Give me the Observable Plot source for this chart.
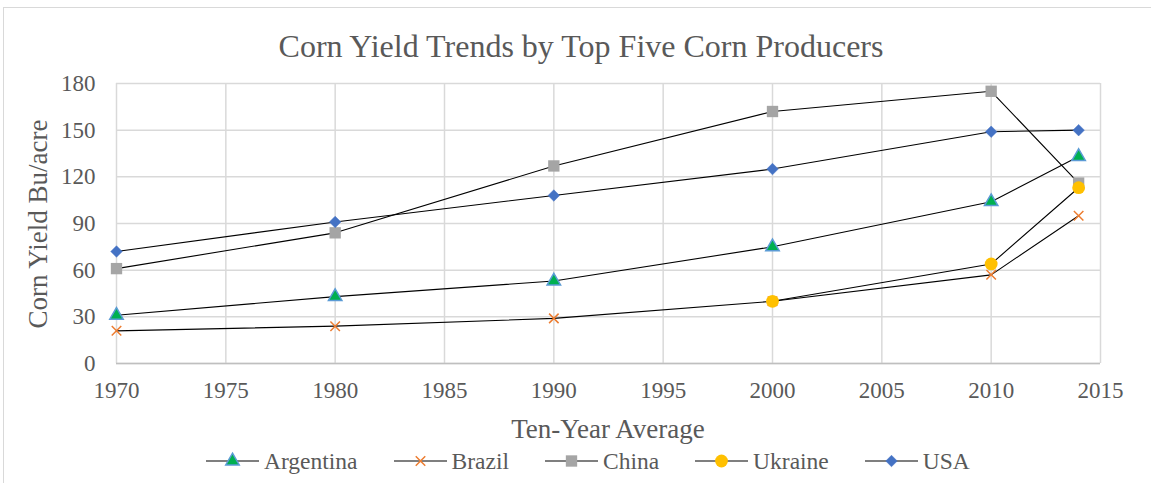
<!DOCTYPE html>
<html><head><meta charset="utf-8">
<script src="https://cdn.jsdelivr.net/npm/d3@7"></script>
<script src="https://cdn.jsdelivr.net/npm/@observablehq/plot@0.6"></script>
<style>
body{margin:0;background:#fff;}
#wrap{position:relative;width:1151px;height:483px;overflow:hidden;font-family:"Liberation Serif","Times New Roman",serif;color:#595959;}
#frame{position:absolute;left:3px;top:7px;width:1200px;height:600px;border-left:1px solid #d9d9d9;border-top:1px solid #d9d9d9;}
#chart{position:absolute;left:0;top:0;}
#title{position:absolute;top:28px;left:581px;transform:translateX(-50%);white-space:nowrap;font-size:32px;line-height:36px;}
#ylab{position:absolute;left:38px;top:224px;transform:translate(-50%,-50%) rotate(-90deg);white-space:nowrap;font-size:27px;line-height:30px;}
#xlab{position:absolute;left:608px;top:414px;transform:translateX(-50%);white-space:nowrap;font-size:27px;line-height:30px;}
#legend{position:absolute;left:206px;top:448px;display:flex;align-items:center;gap:36px;font-size:23.5px;line-height:26px;}
.item{display:flex;align-items:center;}
.item span{margin-left:5px;}
</style>
</head><body>
<div id="wrap">
  <div id="frame"></div>
  <div id="chart"></div>
  <div id="title">Corn Yield Trends by Top Five Corn Producers</div>
  <div id="ylab">Corn Yield Bu/acre</div>
  <div id="xlab">Ten-Year Average</div>
  <div id="legend"></div>
</div>
<script>
// ---- data ----
const years = [1970, 1980, 1990, 2000, 2010, 2014];
const countries = ["Argentina", "Brazil", "China", "Ukraine", "USA"];
const argentina = [31, 43, 53, 75, 104, 133];
const brazil    = [21, 24, 29, 40, 57, 95];
const china     = [61, 84, 127, 162, 175, 116];
const ukraine   = [null, null, null, 40, 64, 113];
const usa       = [72, 91, 108, 125, 149, 150];
const xTicks = [1970, 1975, 1980, 1985, 1990, 1995, 2000, 2005, 2010, 2015];
const yTicks = [0, 30, 60, 90, 120, 150, 180];

// ---- styles ----
const seriesValues = [argentina, brazil, china, ukraine, usa];
const styles = {
  Argentina: {symbol: "triangle", fill: "#00b050", stroke: "#5b9bd5", r: 5, sw: 1.5},
  Brazil:    {symbol: "times",    fill: "none",    stroke: "#ed7d31", r: 4.4, sw: 1.5},
  China:     {symbol: "square",   fill: "#a5a5a5", stroke: "#a5a5a5", r: 6.4, sw: 0},
  Ukraine:   {symbol: "circle",   fill: "#ffc000", stroke: "#ffc000", r: 6.4, sw: 0},
  USA:       {symbol: "diamond2", fill: "#4472c4", stroke: "#4472c4", r: 5.2, sw: 0.5}
};

const series = countries.map((c, i) => ({
  name: c,
  rows: years.map((y, j) => ({year: y, value: seriesValues[i][j], country: c})).filter(d => d.value != null)
}));

const marks = [
  Plot.gridY(yTicks, {stroke: "#d9d9d9", strokeOpacity: 1, strokeWidth: 1.5}),
  Plot.gridX(xTicks, {stroke: "#d9d9d9", strokeOpacity: 1, strokeWidth: 1.5}),
  Plot.ruleY([0], {stroke: "#bfbfbf", strokeWidth: 1.5}),
  Plot.axisY(yTicks, {tickSize: 0, tickPadding: 21, fontSize: 23, label: null}),
  Plot.axisX(xTicks, {tickSize: 0, tickPadding: 18, fontSize: 23, tickFormat: d => String(d), label: null})
];
for (const s of series) {
  const st = styles[s.name];
  marks.push(Plot.line(s.rows, {x: "year", y: "value", stroke: "#000", strokeWidth: 1.1}));
  marks.push(Plot.dot(s.rows, {x: "year", y: "value", symbol: () => st.symbol, fill: st.fill, stroke: st.stroke, strokeWidth: st.sw, r: st.r}));
}

const chart = Plot.plot({
  width: 1151, height: 483,
  marginLeft: 116, marginRight: 51, marginTop: 83, marginBottom: 120,
  x: {domain: [1970, 2015]},
  y: {domain: [0, 180]},
  symbol: {type: "identity"},
  style: {fontFamily: '"Liberation Serif","Times New Roman",serif', fontSize: "23px", color: "#595959", background: "transparent", overflow: "visible"},
  marks
});
document.getElementById("chart").appendChild(chart);

// ---- legend ----
const symMap = {triangle: d3.symbolTriangle, times: d3.symbolTimes, square: d3.symbolSquare, circle: d3.symbolCircle, diamond2: d3.symbolDiamond2};
const legend = d3.select("#legend");
for (const c of countries) {
  const st = styles[c];
  const item = legend.append("div").attr("class", "item");
  const svg = item.append("svg").attr("width", 53).attr("height", 20);
  svg.append("line").attr("x1", 0).attr("x2", 53).attr("y1", 10).attr("y2", 10).attr("stroke", "#000").attr("stroke-width", 1.1);
  svg.append("path")
    .attr("transform", "translate(26.5,10)")
    .attr("d", d3.symbol(symMap[st.symbol], st.r * st.r * Math.PI)())
    .attr("fill", st.fill).attr("stroke", st.stroke).attr("stroke-width", st.sw);
  item.append("span").text(c);
}
</script>
</body></html>
